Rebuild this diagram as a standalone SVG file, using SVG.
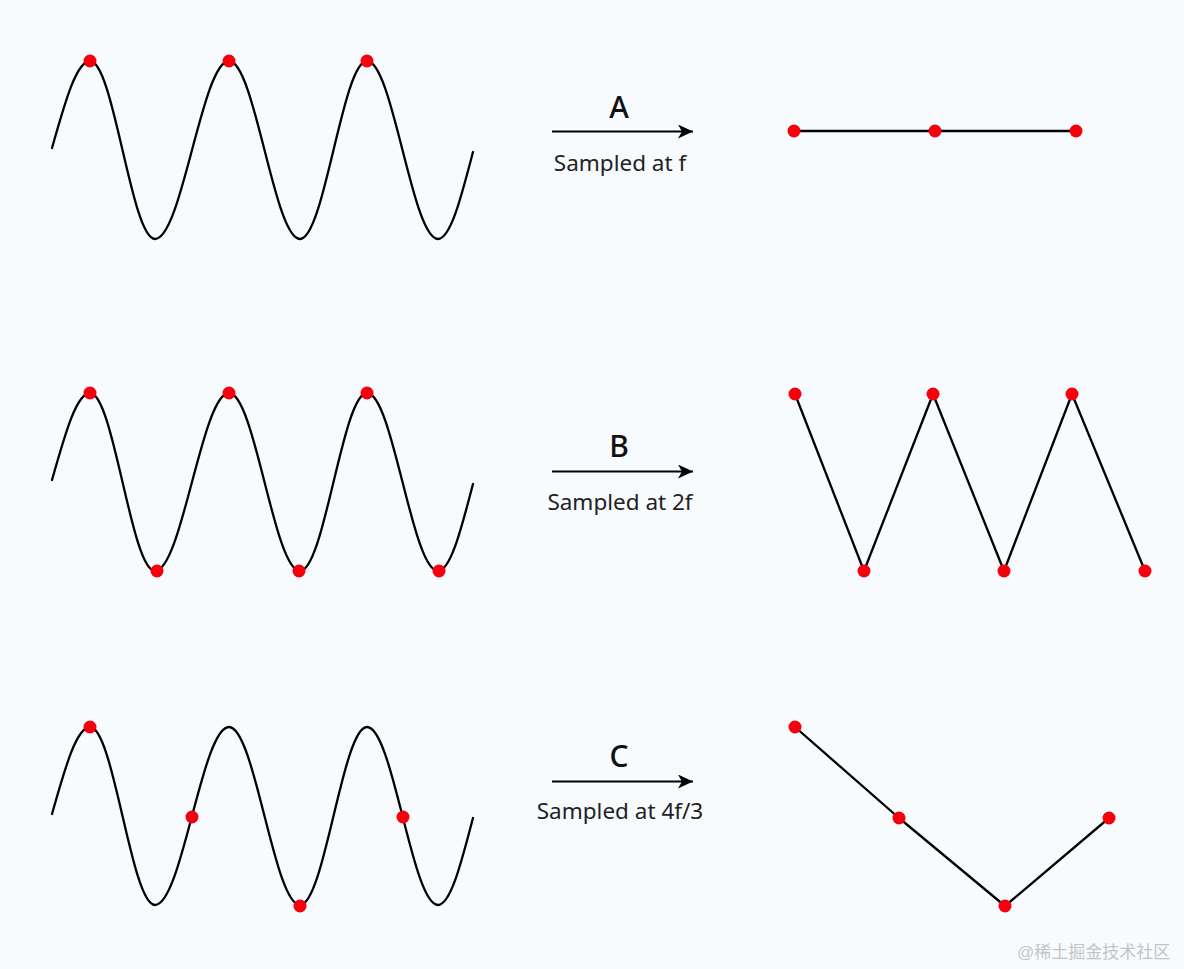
<svg xmlns="http://www.w3.org/2000/svg" width="1184" height="969" viewBox="0 0 1184 969">
<defs>
<style>
.wave{fill:none;stroke:#000;stroke-width:2.3;stroke-linejoin:round;stroke-linecap:round}
.poly{fill:none;stroke:#000;stroke-width:2.3;stroke-linejoin:round}
.dot{fill:#f5000c}
.arrow{stroke:#000;stroke-width:2}
.letter{font-family:"Noto Sans","Liberation Sans",sans-serif;font-size:30px;font-weight:500;text-anchor:middle;fill:#111}
.cap{font-family:"Noto Sans","Liberation Sans",sans-serif;font-size:22.5px;text-anchor:middle;fill:#222}
.wm{font-family:"Liberation Sans","Noto Sans CJK SC",sans-serif;font-size:17px;fill:#c4c4c4}
</style>
<path id="wavePath" d="M52,148 C64.4,104.4 76.2,61 90,61 C113.7,61 131.3,239 155,239 C181.9,239 202.1,61 229,61 C254.8,61 274.2,239 300,239 C324.4,239 342.6,61 367,61 C392.8,61 412.2,239 438,239 C450.7,239 461.6,195.6 473,152"/>
<marker id="ah" markerWidth="16" markerHeight="14" refX="15" refY="7" orient="auto" markerUnits="userSpaceOnUse">
<path d="M0,0 L15,7 L0,14 L4,7 Z" fill="#000"/>
</marker>
</defs>
<rect width="1184" height="969" fill="#f7fbfe"/>

<g id="wave-a">
<use href="#wavePath" class="wave"/>
<circle class="dot" cx="90" cy="61" r="6.5"/>
<circle class="dot" cx="229" cy="61" r="6.5"/>
<circle class="dot" cx="367" cy="61" r="6.5"/>
</g>
<g id="wave-b" transform="translate(0,332)">
<use href="#wavePath" class="wave"/>
<circle class="dot" cx="90" cy="61" r="6.5"/>
<circle class="dot" cx="229" cy="61" r="6.5"/>
<circle class="dot" cx="367" cy="61" r="6.5"/>
<circle class="dot" cx="157" cy="239" r="6.5"/>
<circle class="dot" cx="299" cy="239" r="6.5"/>
<circle class="dot" cx="439" cy="239" r="6.5"/>
</g>
<g id="wave-c" transform="translate(0,666)">
<use href="#wavePath" class="wave"/>
<circle class="dot" cx="90" cy="61" r="6.5"/>
<circle class="dot" cx="192" cy="151" r="6.5"/>
<circle class="dot" cx="300" cy="240" r="6.5"/>
<circle class="dot" cx="403" cy="151" r="6.5"/>
</g>

<g id="connectors">
<line class="arrow" x1="552" y1="131.5" x2="693" y2="131.5" marker-end="url(#ah)"/>
<line class="arrow" x1="552" y1="471.5" x2="693" y2="471.5" marker-end="url(#ah)"/>
<line class="arrow" x1="552" y1="781.5" x2="693" y2="781.5" marker-end="url(#ah)"/>
</g>

<g id="label-a">
<text class="letter" x="619" y="118">A</text>
<text class="cap" x="620" y="171">Sampled at f</text>
</g>
<g id="label-b">
<text class="letter" x="619" y="457">B</text>
<text class="cap" x="620" y="510">Sampled at 2f</text>
</g>
<g id="label-c">
<text class="letter" x="619" y="767">C</text>
<text class="cap" x="620" y="819">Sampled at 4f/3</text>
</g>

<g id="result-a">
<polyline class="poly" points="794,131 935,131 1076,131"/>
<circle class="dot" cx="794" cy="131" r="6.5"/>
<circle class="dot" cx="935" cy="131" r="6.5"/>
<circle class="dot" cx="1076" cy="131" r="6.5"/>
</g>
<g id="result-b">
<polyline class="poly" points="795,394 864,571 933,394 1004,571 1072,394 1145,571"/>
<circle class="dot" cx="795" cy="394" r="6.5"/>
<circle class="dot" cx="864" cy="571" r="6.5"/>
<circle class="dot" cx="933" cy="394" r="6.5"/>
<circle class="dot" cx="1004" cy="571" r="6.5"/>
<circle class="dot" cx="1072" cy="394" r="6.5"/>
<circle class="dot" cx="1145" cy="571" r="6.5"/>
</g>
<g id="result-c">
<polyline class="poly" points="795,727 899,818 1005,906 1109,818"/>
<circle class="dot" cx="795" cy="727" r="6.5"/>
<circle class="dot" cx="899" cy="818" r="6.5"/>
<circle class="dot" cx="1005" cy="906" r="6.5"/>
<circle class="dot" cx="1109" cy="818" r="6.5"/>
</g>

<text class="wm" x="1017" y="958">@稀土掘金技术社区</text>
</svg>
